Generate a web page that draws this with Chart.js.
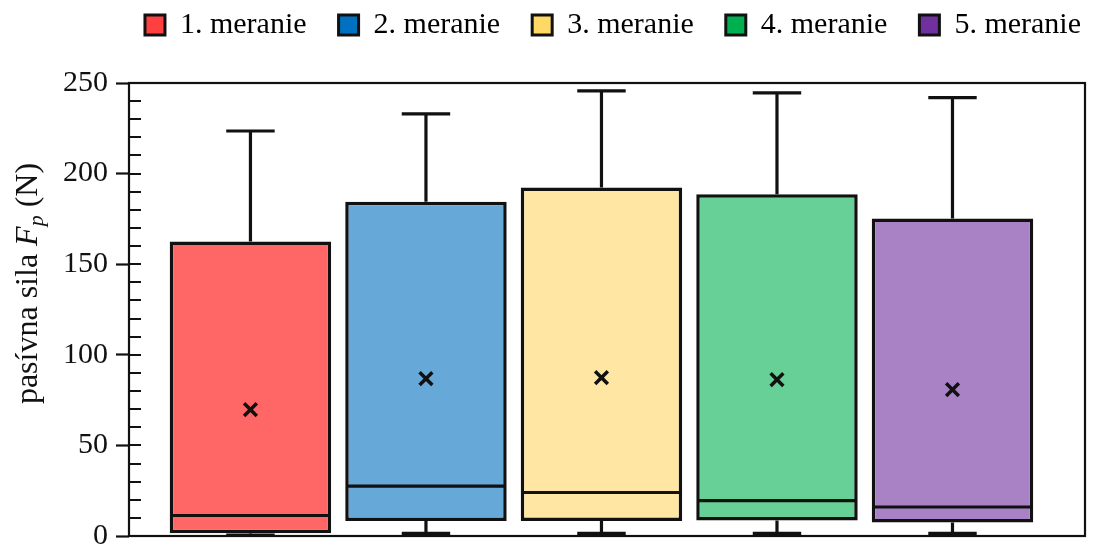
<!DOCTYPE html>
<html>
<head>
<meta charset="utf-8">
<script src="https://cdn.jsdelivr.net/npm/chart.js@4.4.1/dist/chart.umd.min.js"></script>
<style>
  html, body { margin: 0; padding: 0; background: #fff; }
  #wrap { width: 1097px; height: 546px; }
</style>
</head>
<body>
<div id="wrap"><canvas id="boxChart"></canvas></div>
<script>
// --- Data ---
const labels = ["1. meranie", "2. meranie", "3. meranie", "4. meranie", "5. meranie"];
const positions = [1, 2, 3, 4, 5];
const whiskerLow = [0.5, 1.5, 1.5, 1.5, 1.5];
const q1 = [1.5, 8.3, 8.3, 8.5, 7.4];
const median = [11.3, 27.5, 24.0, 19.5, 16.0];
const q3 = [162.5, 184.5, 192.3, 188.6, 175.2];
const whiskerHigh = [223.5, 233.0, 245.7, 244.6, 241.9];
const means = [69.7, 86.8, 87.4, 86.3, 80.8];
const yTicks = [0, 50, 100, 150, 200, 250];

// --- Style ---
const ink = "#111111";
const legendFill = ["#FF4040", "#0070C0", "#FFD966", "#00B050", "#7030A0"];
const boxFill = ["#FF6666", "#66A8D8", "#FFE6A2", "#66D096", "#A982C6"];
const serif = "'Liberation Serif', 'Times New Roman', serif";
const MINOR_STEP = 10;

// ===========================
// Box plot extras: whiskers, medians, frame, inner ticks, axis title
// ===========================
const boxPlotDecor = {
  id: "boxPlotDecor",
  beforeDatasetsDraw(chart) {
    const { ctx, scales: { x, y } } = chart;
    ctx.save();
    ctx.strokeStyle = ink;
    ctx.lineWidth = 3.2;
    positions.forEach((p, i) => {
      const bar = chart.getDatasetMeta(i).data[0];
      const px = x.getPixelForValue(p);
      const cap = bar.width * 0.15;
      const yHi = y.getPixelForValue(whiskerHigh[i]);
      const yLo = y.getPixelForValue(whiskerLow[i]);
      ctx.beginPath();
      ctx.moveTo(px, y.getPixelForValue(q3[i]));
      ctx.lineTo(px, yHi);
      ctx.moveTo(px, y.getPixelForValue(q1[i]));
      ctx.lineTo(px, yLo);
      ctx.moveTo(px - cap, yHi);
      ctx.lineTo(px + cap, yHi);
      ctx.moveTo(px - cap, yLo);
      ctx.lineTo(px + cap, yLo);
      ctx.stroke();
    });
    ctx.restore();
  },
  afterDatasetsDraw(chart) {
    const { ctx, scales: { y } } = chart;
    ctx.save();
    ctx.strokeStyle = ink;
    ctx.lineWidth = 3.2;
    positions.forEach((p, i) => {
      const bar = chart.getDatasetMeta(i).data[0];
      const ym = y.getPixelForValue(median[i]);
      ctx.beginPath();
      ctx.moveTo(bar.x - bar.width / 2 + 2, ym);
      ctx.lineTo(bar.x + bar.width / 2 - 2, ym);
      ctx.stroke();
    });
    ctx.restore();
  },
  afterDraw(chart) {
    const { ctx, chartArea: a, scales: { y } } = chart;
    ctx.save();
    ctx.strokeStyle = ink;
    ctx.lineWidth = 2.2;
    // minor + major ticks pointing inward
    ctx.beginPath();
    for (let v = y.min; v <= y.max; v += MINOR_STEP) {
      const py = Math.round(y.getPixelForValue(v));
      ctx.moveTo(a.left, py);
      ctx.lineTo(a.left + 12, py);
    }
    ctx.stroke();
    // frame
    ctx.strokeRect(a.left, a.top, a.right - a.left, a.bottom - a.top);

    // y title: "pasívna sila F_p (N)"
    const parts = [
      { t: "pasívna sila ", f: "32px " + serif, dy: 0 },
      { t: "F", f: "italic 32px " + serif, dy: 0 },
      { t: "p", f: "italic 22px " + serif, dy: 6 },
      { t: " (N)", f: "32px " + serif, dy: 0 }
    ];
    let total = 0;
    parts.forEach(pt => { ctx.font = pt.f; pt.w = ctx.measureText(pt.t).width; total += pt.w; });
    ctx.translate(37, (a.top + a.bottom) / 2 - 26);
    ctx.rotate(-Math.PI / 2);
    ctx.fillStyle = ink;
    ctx.textBaseline = "alphabetic";
    let cx = -total / 2;
    parts.forEach(pt => {
      ctx.font = pt.f;
      ctx.fillText(pt.t, cx, pt.dy);
      cx += pt.w;
    });
    ctx.restore();
  }
};

// ===========================
// Datasets
// ===========================
const boxDatasets = labels.map((lab, i) => ({
  type: "bar",
  label: lab,
  data: [{ x: positions[i], y: [q1[i], q3[i]] }],
  backgroundColor: boxFill[i],
  borderColor: ink,
  borderWidth: 3.5,
  borderSkipped: false,
  grouped: false,
  barPercentage: 1,
  categoryPercentage: 0.92,
  order: 1
}));

// mean markers, drawn on top of the boxes (lower order = drawn last)
const meanDataset = {
  type: "scatter",
  label: "priemer",
  data: positions.map((p, i) => ({ x: p, y: means[i] })),
  pointStyle: "crossRot",
  pointRadius: 9,
  borderWidth: 3.5,
  borderColor: ink,
  backgroundColor: ink,
  order: 0
};

const ctx = document.getElementById("boxChart").getContext("2d");
const boxChart = new Chart(ctx, {
  type: "bar",
  data: { datasets: [...boxDatasets, meanDataset] },
  options: {
    responsive: true,
    maintainAspectRatio: false,
    animation: false,
    layout: { autoPadding: false, padding: { top: -22, right: -16, bottom: 10, left: 0 } },
    scales: {
      x: {
        type: "linear",
        position: "top",
        offset: false,
        min: 0.308,
        max: 5.755,
        ticks: { display: false, stepSize: 1, includeBounds: false },
        grid: { display: false, offset: false },
        border: { display: false },
        afterFit: axis => { axis.height = 33; axis.paddingLeft = 0; axis.paddingRight = 0; }
      },
      y: {
        type: "linear",
        position: "left",
        min: 0,
        max: 250,
        afterBuildTicks: axis => { axis.ticks = yTicks.map(v => ({ value: v })); },
        ticks: { font: { family: serif, size: 30 }, color: ink, padding: 8 },
        grid: { drawOnChartArea: false, drawTicks: true, tickLength: 13, tickWidth: 2.2, tickColor: ink },
        border: { display: false },
        afterFit: axis => { axis.width = 129; axis.paddingTop = 0; axis.paddingBottom = 0; }
      },
      yR: {
        type: "linear",
        position: "right",
        ticks: { display: false },
        grid: { display: false },
        border: { display: false },
        afterFit: axis => { axis.width = 28; axis.paddingTop = 0; axis.paddingBottom = 0; }
      }
    },
    plugins: {
      legend: {
        position: "top",
        align: "end",
        labels: {
          font: { family: serif, size: 30 },
          color: ink,
          boxWidth: 20,
          boxHeight: 20,
          padding: 32,
          generateLabels: () => labels.map((t, i) => ({
            text: t,
            fillStyle: legendFill[i],
            strokeStyle: ink,
            lineWidth: 3,
            datasetIndex: i,
            hidden: false
          }))
        }
      },
      tooltip: { enabled: false }
    }
  },
  plugins: [boxPlotDecor]
});
</script>
</body>
</html>
